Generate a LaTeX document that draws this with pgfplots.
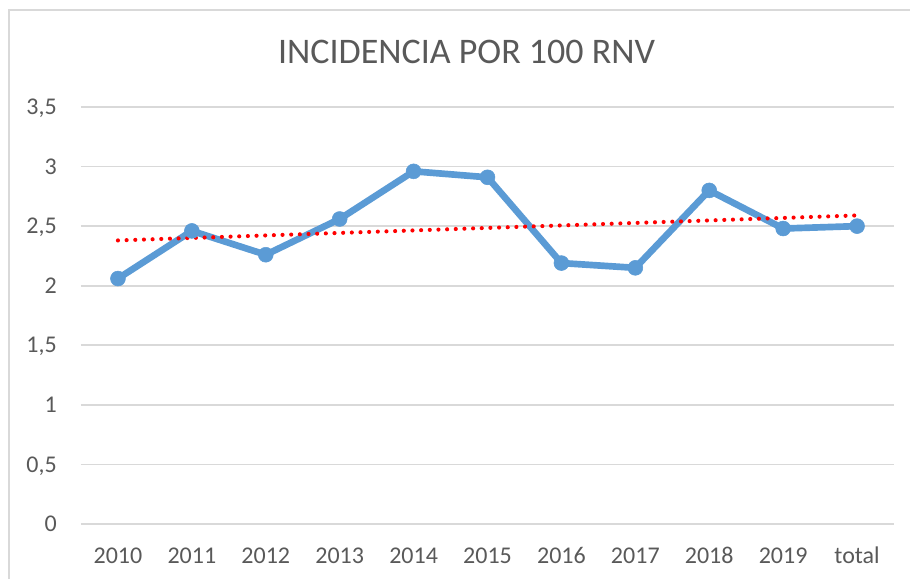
\documentclass[border=0pt]{standalone}
\usepackage{fontspec}
\setmainfont{Carlito}
\usepackage{pgfplots}
\pgfplotsset{compat=1.18}
\definecolor{linecol}{HTML}{5B9BD5}
\definecolor{gridcol}{HTML}{D9D9D9}
\definecolor{textcol}{HTML}{595959}
\begin{document}
\begin{tikzpicture}
\path[use as bounding box] (0,0) rectangle (682.5pt,434.25pt);
\draw[gridcol, line width=0.9pt] (6.75pt,0) -- (6.75pt,426.75pt) -- (682.5pt,426.75pt);
\node[anchor=base, text=textcol, font=\fontsize{27}{27}\selectfont] at (349.9pt,386.25pt) {INCIDENCIA POR 100 RNV};
\begin{axis}[
  at={(60.75pt,41.25pt)}, anchor=south west,
  scale only axis, width=609.75pt, height=312.75pt,
  xmin=-0.5, xmax=10.5, ymin=0, ymax=3.5,
  xtick={0,1,2,3,4,5,6,7,8,9,10},
  xticklabels={2010,2011,2012,2013,2014,2015,2016,2017,2018,2019,total},
  ytick={0,0.5,1,1.5,2,2.5,3,3.5},
  ymajorgrids, grid style={gridcol, line width=1.3pt},
  axis line style={draw=none},
  tick style={draw=none},
  /pgf/number format/use comma,
  /pgf/number format/assume math mode=true,
  ticklabel style={font=\fontsize{18}{18}\selectfont, text=textcol},
  yticklabel style={anchor=base east, inner sep=0pt, xshift=-18pt, yshift=-5.7pt},
  xticklabel style={anchor=base, inner sep=0pt, yshift=-29.25pt},
  clip=false,
]
\addplot[color=linecol, line width=5pt, mark=*, mark size=5.6pt,
  mark options={fill=linecol, draw=linecol, line width=0.4pt}]
  coordinates {(0,2.06) (1,2.46) (2,2.26) (3,2.56) (4,2.96) (5,2.91) (6,2.19) (7,2.15) (8,2.80) (9,2.48) (10,2.50)};
\addplot[color=red, line width=3.1pt, line cap=round, dash pattern=on 0pt off 6.5pt]
  coordinates {(0,2.38) (10,2.59)};
\end{axis}
\end{tikzpicture}
\end{document}
